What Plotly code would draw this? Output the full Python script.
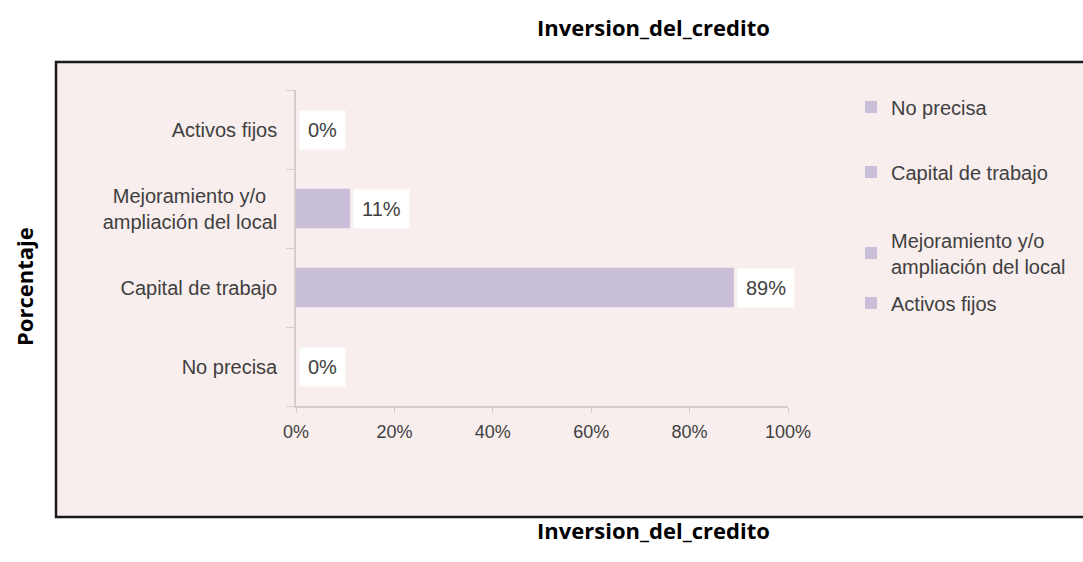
import plotly.graph_objects as go

# Data
categories = ["No precisa", "Capital de trabajo", "Mejoramiento y/o ampliación del local", "Activos fijos"]
tick_labels = ["No precisa", "Capital de trabajo",
               "Mejoramiento y/o\u00a0\u00a0<br>ampliación del local", "Activos fijos"]
legend_labels = ["No precisa", "Capital de trabajo",
                 "Mejoramiento y/o<br>ampliación del local", "Activos fijos"]
values = [0.0, 0.89, 0.11, 0.0]
value_labels = ["0%", "89%", "11%", "0%"]

# Page geometry (pixels)
W, H = 1083, 562
PLOT_L, PLOT_R, PLOT_T, PLOT_B = 296, 788, 90, 406

BAR_COLOR = "#c9bfd9"
PANEL_COLOR = "#f9eeee"
TEXT_COLOR = "#404040"
AXIS_COLOR = "#d6cccc"
FONT = "Liberation Sans, Arial, sans-serif"
TITLE_FONT = "Open Sans, sans-serif"


def px(x):
    return (x - PLOT_L) / (PLOT_R - PLOT_L)


def py(y):
    return (PLOT_B - y) / (PLOT_B - PLOT_T)


fig = go.Figure()

legend_names = ["legend", "legend2", "legend3", "legend4"]
legend_y = [107, 172, 253, 303]

for i, (cat, val) in enumerate(zip(categories, values)):
    fig.add_trace(go.Bar(
        x=[val], y=[cat], orientation="h",
        name=legend_labels[i],
        marker=dict(color=BAR_COLOR, line=dict(width=0)),
        width=0.5,
        legend=legend_names[i],
        hoverinfo="skip",
    ))
    fig.add_annotation(
        x=val, y=cat, xref="x", yref="y",
        text=value_labels[i], showarrow=False,
        xanchor="left", yanchor="middle", xshift=3,
        bgcolor="white", borderpad=8,
        font=dict(family=FONT, size=20, color=TEXT_COLOR),
    )

legend_layout = {}
for name, ly in zip(legend_names, legend_y):
    legend_layout[name] = dict(
        x=px(851), y=py(ly), xanchor="left", yanchor="middle",
        xref="paper", yref="paper",
        bgcolor="rgba(0,0,0,0)", borderwidth=0,
        font=dict(family=FONT, size=20, color=TEXT_COLOR),
        itemwidth=30, itemsizing="constant",
    )

# Framed panel behind the chart
fig.add_shape(
    type="rect", xref="paper", yref="paper", layer="below",
    x0=px(56), x1=px(1090), y0=py(517), y1=py(62),
    fillcolor=PANEL_COLOR, line=dict(color="#1a1a1a", width=2.5),
)

# Titles
fig.add_annotation(
    x=px(653), y=py(27), xref="paper", yref="paper", showarrow=False,
    text="<b>Inversion_del_credito</b>", xanchor="center", yanchor="middle",
    font=dict(family=TITLE_FONT, size=22, color="black"),
)
fig.add_annotation(
    x=px(653), y=py(530), xref="paper", yref="paper", showarrow=False,
    text="<b>Inversion_del_credito</b>", xanchor="center", yanchor="middle",
    font=dict(family=TITLE_FONT, size=22, color="black"),
)
fig.add_annotation(
    x=px(24), y=py(287), xref="paper", yref="paper", showarrow=False,
    text="<b>Porcentaje</b>", textangle=-90, xanchor="center", yanchor="middle",
    font=dict(family=TITLE_FONT, size=22, color="black"),
)

fig.update_layout(
    width=W, height=H,
    margin=dict(l=PLOT_L, r=W - PLOT_R, t=PLOT_T, b=H - PLOT_B, pad=0),
    paper_bgcolor="white", plot_bgcolor="rgba(0,0,0,0)",
    barmode="overlay",
    showlegend=True,
    **legend_layout,
)

fig.update_xaxes(
    range=[0, 1], tickvals=[0, 0.2, 0.4, 0.6, 0.8, 1.0], tickformat=".0%",
    showgrid=False, zeroline=False,
    showline=True, linecolor=AXIS_COLOR, linewidth=1.5,
    ticks="outside", ticklen=5, tickcolor=AXIS_COLOR,
    ticklabelstandoff=4,
    tickfont=dict(family=FONT, size=18, color=TEXT_COLOR),
    fixedrange=True,
)
fig.update_yaxes(
    categoryorder="array", categoryarray=categories,
    tickvals=categories, ticktext=tick_labels,
    range=[-0.5, 3.5],
    showgrid=False, zeroline=False,
    showline=True, linecolor=AXIS_COLOR, linewidth=1.5,
    ticks="outside", ticklen=8, tickcolor=AXIS_COLOR, tickson="boundaries",
    ticklabelstandoff=13,
    tickfont=dict(family=FONT, size=20, color=TEXT_COLOR),
    fixedrange=True,
)

fig.write_html("out.html", config={"displayModeBar": False})
